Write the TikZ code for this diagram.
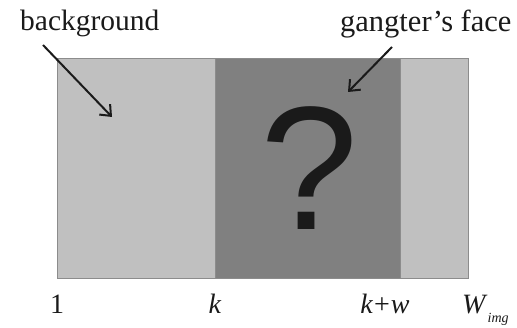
\documentclass[tikz,border=0pt]{standalone}
\usepackage{fontspec}
\setmainfont{Liberation Serif}
\newfontfamily\qfont{Liberation Sans}
\usetikzlibrary{arrows.meta}
\definecolor{lightbg}{HTML}{C0C0C0}
\definecolor{darkbg}{HTML}{808080}
\definecolor{edgegray}{HTML}{8C8C8C}
\definecolor{qcol}{HTML}{1A1A1A}
\definecolor{inkcol}{HTML}{1A1A1A}
\tikzset{
  region/.style={draw=edgegray, line width=0.9pt},
  lbl/.style={inner sep=0pt, anchor=base, font=\fontsize{29.5}{30}\selectfont, text=inkcol},
  axlbl/.style={inner sep=0pt, anchor=base, font=\fontsize{28}{30}\selectfont, text=inkcol},
  pointer/.style={draw=inkcol, line width=2pt, -{Straight Barb[length=9pt,width=15pt,line width=2pt]}}
}
\begin{document}
\begin{tikzpicture}[x=1pt,y=-1pt]
\useasboundingbox (0,0) rectangle (517,328);
% regions
\filldraw[region, fill=lightbg] (57,58) rectangle (468,278);
\filldraw[region, fill=darkbg] (215,58) rectangle (400,278);
\draw[region] (57,58) rectangle (468,278);
\node[inner sep=0pt, text=qcol, font=\qfont\fontsize{176}{176}\selectfont] (q) at (309,168) {?};
% labels
\node[lbl, anchor=base west] (bg) at (20,31) {background};
\node[lbl, anchor=base west, font=\fontsize{30.5}{31}\selectfont] (face) at (340,32) {gangter’s face};
\coordinate (bgs) at (43,45);
\coordinate (bge) at (112,117);
\coordinate (fs) at (392,47);
\coordinate (fe) at (348,92);
\draw[pointer] (bgs) -- (bge);
\draw[pointer] (fs) -- (fe);
% axis labels
\node[axlbl] (one) at (57,314) {1};
\node[axlbl] (k) at (215,314) {\textit{k}};
\node[axlbl] (kw) at (385,314) {\textit{k}\kern1pt+\kern1pt\textit{w}};
\node[axlbl, anchor=base west] (W) at (462,314) {\textit{W}\raisebox{-0.3em}{\fontsize{14}{14}\selectfont\textit{img}}};
\end{tikzpicture}
\end{document}
